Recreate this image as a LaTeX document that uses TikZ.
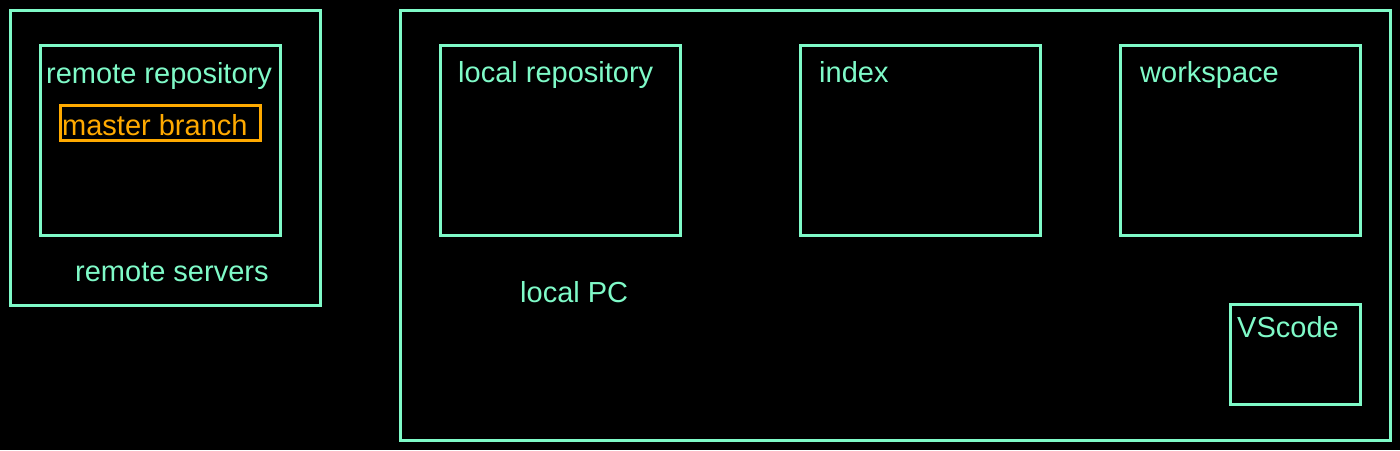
\documentclass[tikz,border=0pt]{standalone}
\usepackage{fontspec}
\setmainfont{Liberation Sans}
\definecolor{mint}{RGB}{127,250,200}
\definecolor{amber}{RGB}{255,170,0}
\begin{document}
\begin{tikzpicture}[x=1pt,y=-1pt,
  box/.style={draw=mint,line width=3pt,anchor=north west,inner sep=0pt,outer sep=0pt},
  lbl/.style={text=mint,anchor=base west,inner sep=0pt,font=\fontsize{29}{34}\selectfont},
  olbl/.style={text=amber,anchor=base west,inner sep=0pt,font=\fontsize{29}{34}\selectfont}]
\fill[black] (0,0) rectangle (1400,450);
\useasboundingbox (0,0) rectangle (1400,450);
% remote side
\node[box,minimum width=310pt,minimum height=295pt] (servers) at (10,10) {};
\node[box,minimum width=240pt,minimum height=190pt] (remrepo) at (40,45) {};
\node[box,draw=amber,minimum width=200pt,minimum height=35pt] (master) at (60,105) {};
\node[lbl] (remrepoT) at (46,83) {remote repository};
\node[olbl] (masterT) at (62,135) {master branch};
\node[lbl] (serversT) at (75,281) {remote servers};
% local side
\node[box,minimum width=990pt,minimum height=430pt] (pc) at (400,10) {};
\node[box,minimum width=240pt,minimum height=190pt] (locrepo) at (440,45) {};
\node[box,minimum width=240pt,minimum height=190pt] (index) at (800,45) {};
\node[box,minimum width=240pt,minimum height=190pt] (work) at (1120,45) {};
\node[box,minimum width=130pt,minimum height=100pt] (vscode) at (1230,304) {};
\node[lbl] (locrepoT) at (458,82) {local repository};
\node[lbl] (indexT) at (819,82) {index};
\node[lbl] (workT) at (1140,82) {workspace};
\node[lbl] (pcT) at (520,302) {local PC};
\node[lbl] (vscodeT) at (1237,337) {VScode};
\end{tikzpicture}
\end{document}
